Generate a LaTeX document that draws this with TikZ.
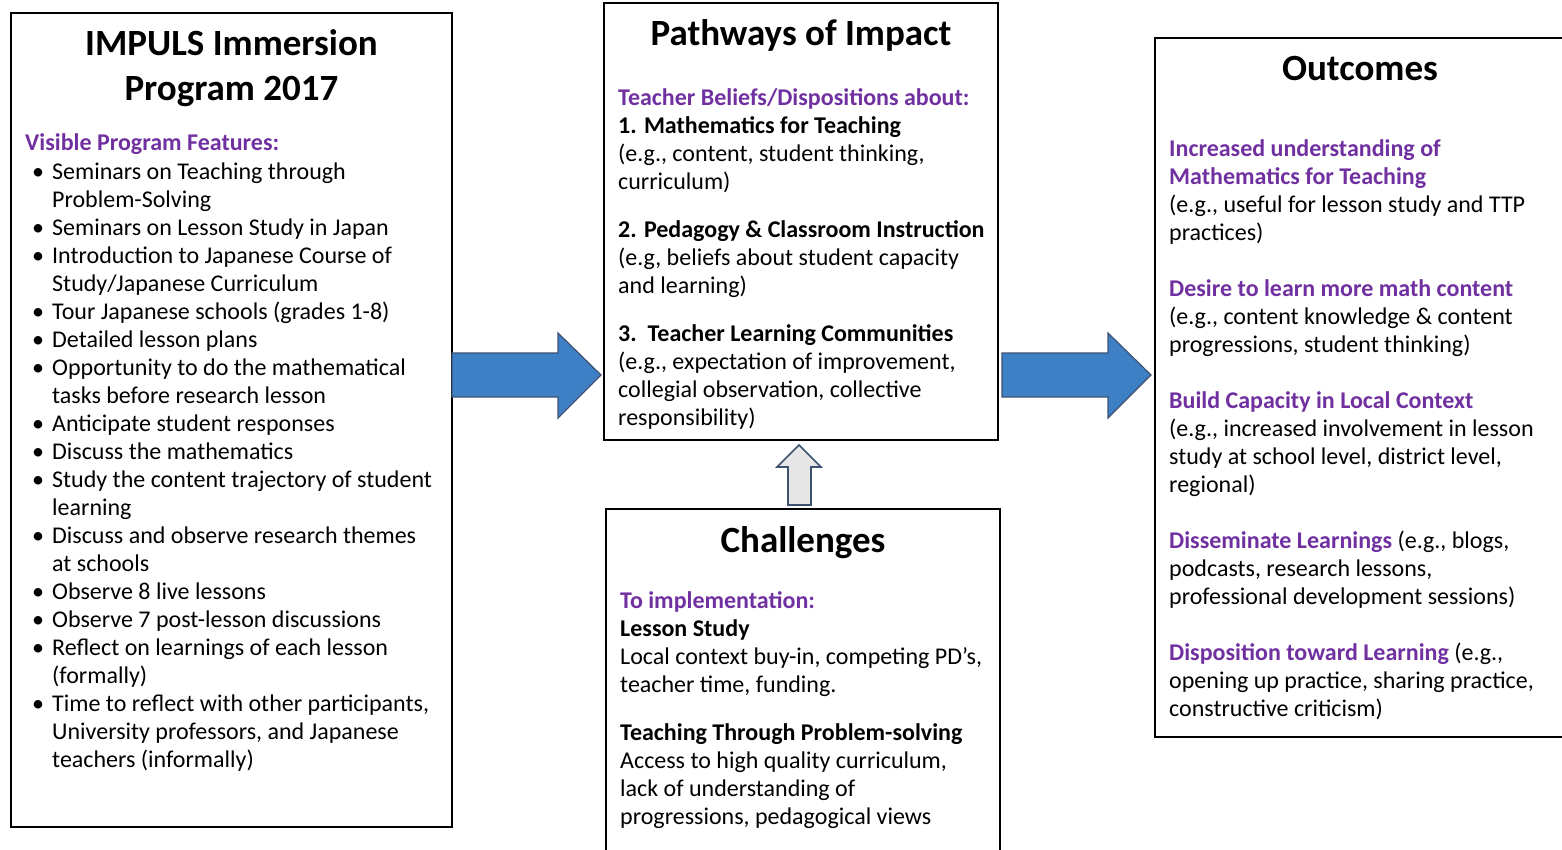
\documentclass[tikz,border=0pt]{standalone}
\usepackage{fontspec}
\setmainfont{Carlito}
\definecolor{purp}{RGB}{112,48,160}
\definecolor{arrowblue}{RGB}{62,128,198}
\definecolor{arrowedge}{RGB}{62,82,112}
\definecolor{lightgrey}{RGB}{230,230,230}
\tikzset{
  box/.style={draw=black, line width=1.6pt, inner sep=0pt, outer sep=0pt, anchor=north west},
  ttl/.style={font=\fontsize{37}{45}\selectfont\bfseries, align=center, anchor=base, inner sep=0pt},
  body/.style={font=\fontsize{24}{28}\selectfont, align=left, anchor=base west, inner sep=0pt},
  bigarrow/.style={fill=arrowblue, draw=arrowedge, line width=1.2pt, line join=miter},
  uparrow/.style={fill=lightgrey, draw=arrowedge, line width=1.6pt, line join=miter}
}
\newcommand{\hd}[1]{\textbf{\color{purp}#1}}
\newcommand{\bul}{\llap{\makebox[20pt][l]{•}}}
\begin{document}
\begin{tikzpicture}[x=1pt,y=-1pt]
\useasboundingbox (0,0) rectangle (1562,850);
\clip (0,0) rectangle (1562,850);
% boxes
\node[box, minimum width=441pt, minimum height=814pt] (feat) at (11,13) {};
\node[box, minimum width=394pt, minimum height=437pt] (path) at (604,3) {};
\node[box, minimum width=394pt, minimum height=361pt] (chal) at (606,509) {};
\node[box, minimum width=410pt, minimum height=699pt] (outc) at (1155,38) {};
% arrows
\draw[bigarrow] (452,353) -- (558,353) -- (558,333) -- (601,375) -- (558,418) -- (558,397) -- (452,397) -- cycle;
\draw[bigarrow] (1002,353) -- (1108,353) -- (1108,333) -- (1151,375) -- (1108,418) -- (1108,397) -- (1002,397) -- cycle;
\draw[uparrow] (788,505) -- (788,467) -- (777,467) -- (799,445) -- (821,467) -- (811,467) -- (811,505) -- cycle;
% titles (base anchor = baseline of last line)
\node[ttl] (featT) at (231.5,101) {IMPULS Immersion\\Program 2017};
\node[ttl] (pathT) at (801,46) {Pathways of Impact};
\node[ttl] (chalT) at (803,552) {Challenges};
\node[ttl] (outcT) at (1360,81) {Outcomes};
% left box text
\node[body] (featH) at (25,151) {\hd{Visible Program Features:}};
\node[body] (featB) at (52,767) {%
\bul Seminars on Teaching through\\
Problem-Solving\\
\bul Seminars on Lesson Study in Japan\\
\bul Introduction to Japanese Course of\\
Study/Japanese Curriculum\\
\bul Tour Japanese schools (grades 1-8)\\
\bul Detailed lesson plans\\
\bul Opportunity to do the mathematical\\
tasks before research lesson\\
\bul Anticipate student responses\\
\bul Discuss the mathematics\\
\bul Study the content trajectory of student\\
learning\\
\bul Discuss and observe research themes\\
at schools\\
\bul Observe 8 live lessons\\
\bul Observe 7 post-lesson discussions\\
\bul Reflect on learnings of each lesson\\
(formally)\\
\bul Time to reflect with other participants,\\
University professors, and Japanese\\
teachers (informally)};
% pathways text
\node[body] (pathB) at (618,425) {%
\hd{Teacher Beliefs/Dispositions about:}\\
\textbf{1. Mathematics for Teaching}\\
(e.g., content, student thinking,\\
curriculum)\\[20pt]
\textbf{2. Pedagogy \& Classroom Instruction}\\
(e.g, beliefs about student capacity\\
and learning)\\[20pt]
\textbf{3.\ \ Teacher Learning Communities}\\
(e.g., expectation of improvement,\\
collegial observation, collective\\
responsibility)};
% challenges text
\node[body] (chalB) at (620,824) {%
\hd{To implementation:}\\
\textbf{Lesson Study}\\
Local context buy-in, competing PD’s,\\
teacher time, funding.\\[20pt]
\textbf{Teaching Through Problem-solving}\\
Access to high quality curriculum,\\
lack of understanding of\\
progressions, pedagogical views};
% outcomes text
\node[body] (outcB) at (1169,716) {%
\hd{Increased understanding of}\\
\hd{Mathematics for Teaching}\\
(e.g., useful for lesson study and TTP\\
practices)\\[28pt]
\hd{Desire to learn more math content}\\
(e.g., content knowledge \& content\\
progressions, student thinking)\\[28pt]
\hd{Build Capacity in Local Context}\\
(e.g., increased involvement in lesson\\
study at school level, district level,\\
regional)\\[28pt]
\hd{Disseminate Learnings} (e.g., blogs,\\
podcasts, research lessons,\\
professional development sessions)\\[28pt]
\hd{Disposition toward Learning} (e.g.,\\
opening up practice, sharing practice,\\
constructive criticism)};
\end{tikzpicture}
\end{document}
